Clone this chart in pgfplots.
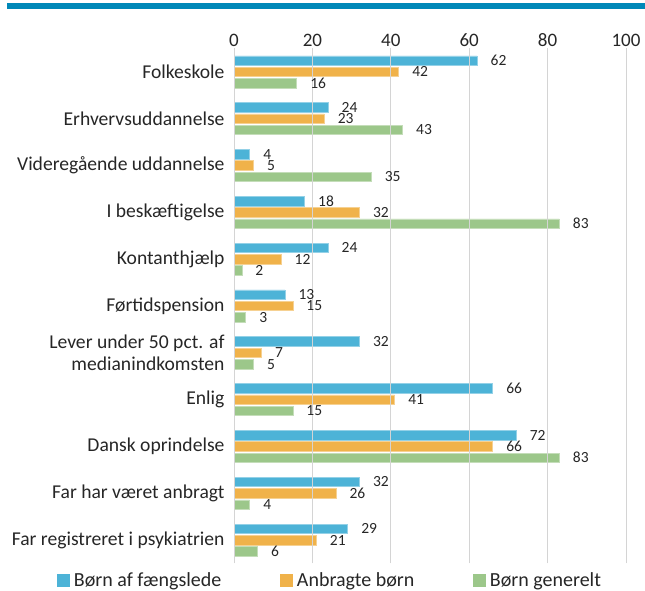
\documentclass[border=0pt]{standalone}
\usepackage{pgfplots}
\pgfplotsset{compat=1.18}
\usepackage{pgfplotstable}
\usepackage{fontspec}
\setmainfont{Carlito}
\definecolor{cblue}{HTML}{4DB3D7}
\definecolor{corange}{HTML}{F0B24A}
\definecolor{cgreen}{HTML}{9CC78A}
\definecolor{crule}{HTML}{0088B8}
\definecolor{cgrid}{HTML}{D4D4D4}

\pgfplotstableread{
y v
10 62
9 24
8 4
7 18
6 24
5 13
4 32
3 66
2 72
1 32
0 29
}\tblblue
\pgfplotstableread{
y v
10 42
9 23
8 5
7 32
6 12
5 15
4 7
3 41
2 66
1 26
0 21
}\tblorange
\pgfplotstableread{
y v
10 16
9 43
8 35
7 83
6 2
5 3
4 5
3 15
2 83
1 4
0 6
}\tblgreen

\begin{document}
\begin{tikzpicture}[x=1pt,y=1pt]
\useasboundingbox (0,0) rectangle (645,591);
\fill[crule] (7,582) rectangle (645,588);
\begin{axis}[
  at={(234pt,542.5pt)}, anchor=north west,
  scale only axis, width=392pt, height=515pt,
  xmin=0, xmax=100, ymin=-0.5, ymax=10.5,
  xbar, bar width=9.5pt,
  xtick={0,20,40,60,80,100},
  xticklabel pos=top,
  ytick={0,...,10},
  yticklabels={Far registreret i psykiatrien, Far har været anbragt, Dansk oprindelse, Enlig, {Lever under 50 pct. af\\medianindkomsten}, Førtidspension, Kontanthjælp, I beskæftigelse, Videregående uddannelse, Erhvervsuddannelse, Folkeskole},
  yticklabel style={align=right, font=\fontsize{19.6}{22.4}\selectfont, xshift=-6pt, text=black!85},
  xticklabel style={font=\fontsize{19}{22}\selectfont, yshift=-2pt, text=black!85},
  /pgf/number format/assume math mode=true,
  major tick length=0pt,
  axis line style={draw=none},
  xmajorgrids, major grid style={cgrid, line width=0.8pt},
  axis on top,
  point meta=x,
  nodes near coords,
  nodes near coords style={anchor=west, xshift=10pt, font=\fontsize{15.5}{18}\selectfont, text=black!85},
  legend columns=3,
  legend style={at={(-0.4508,-0.032)}, anchor=west, draw=none, fill=none,
    inner sep=0pt, outer sep=0pt,
    nodes={inner sep=4pt, text=black!85},
    font=\fontsize{20}{22}\selectfont,
    /tikz/every even column/.append style={column sep=55pt}},
]
\addplot[fill=cblue, draw=cblue!60!white, line width=0.6pt, bar shift=11.3pt,
  legend image code/.code={\fill[cblue] (0pt,-6pt) rectangle (12pt,6pt);}]
  table[x=v,y=y]{\tblblue};
\addlegendentry{Børn af fængslede}
\addplot[fill=corange, draw=corange!60!white, line width=0.6pt, bar shift=0pt,
  legend image code/.code={\fill[corange] (0pt,-6pt) rectangle (12pt,6pt);}]
  table[x=v,y=y]{\tblorange};
\addlegendentry{Anbragte børn}
\addplot[fill=cgreen, draw=cgreen!60!white, line width=0.6pt, bar shift=-11.3pt,
  legend image code/.code={\fill[cgreen] (0pt,-6pt) rectangle (12pt,6pt);}]
  table[x=v,y=y]{\tblgreen};
\addlegendentry{Børn generelt}
\end{axis}
\end{tikzpicture}
\end{document}
